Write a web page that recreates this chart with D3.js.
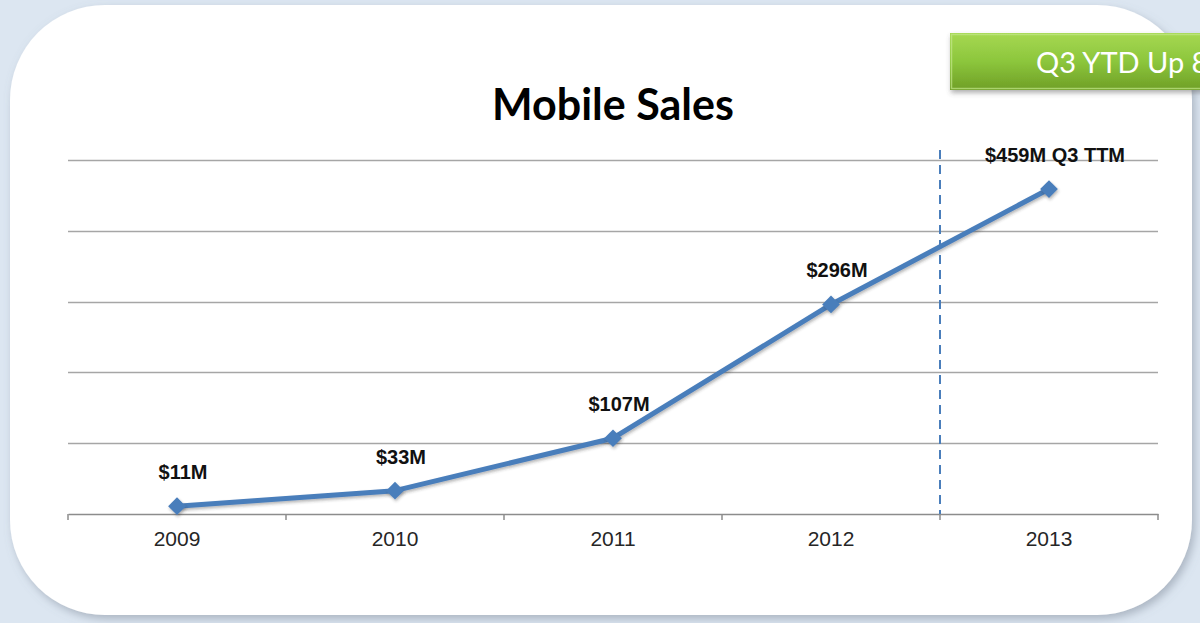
<!DOCTYPE html>
<html>
<head>
<meta charset="utf-8">
<script src="https://cdn.jsdelivr.net/npm/d3@7"></script>
<style>
  html, body { margin: 0; padding: 0; background: #dce6f1; overflow: hidden; }
  svg { display: block; }
</style>
</head>
<body>
<svg id="chart" width="1200" height="623"></svg>
<script>
// Annual mobile sales, in $ millions
const years = ["2009", "2010", "2011", "2012", "2013"];
const sales = [11, 33, 107, 296, 459];
const salesLabels = ["$11M", "$33M", "$107M", "$296M", "$459M Q3 TTM"];
const gridValues = [0, 100, 200, 300, 400, 500];
const chartTitle = "Mobile Sales";
const bannerText = "Q3 YTD Up 8";

const W = 1200, H = 623;
const svg = d3.select("#chart");
const defs = svg.append("defs");

// soft card shadow
const sh = defs.append("filter").attr("id", "cardShadow")
  .attr("x", "-5%").attr("y", "-5%").attr("width", "112%").attr("height", "115%");
sh.append("feDropShadow").attr("dx", 3).attr("dy", 4).attr("stdDeviation", 4)
  .attr("flood-color", "#7a8594").attr("flood-opacity", 0.5);

const bsh = defs.append("filter").attr("id", "bannerShadow")
  .attr("x", "-10%").attr("y", "-20%").attr("width", "130%").attr("height", "160%");
bsh.append("feDropShadow").attr("dx", 1).attr("dy", 3).attr("stdDeviation", 2.5)
  .attr("flood-color", "#555").attr("flood-opacity", 0.45);

const mk = defs.append("filter").attr("id", "markShadow")
  .attr("x", "-50%").attr("y", "-50%").attr("width", "200%").attr("height", "200%");
mk.append("feDropShadow").attr("dx", 1).attr("dy", 2).attr("stdDeviation", 1.5)
  .attr("flood-color", "#333").attr("flood-opacity", 0.35);

const green = defs.append("linearGradient").attr("id", "greenGrad")
  .attr("x1", 0).attr("y1", 0).attr("x2", 0).attr("y2", 1);
green.append("stop").attr("offset", "0%").attr("stop-color", "#a6d852");
green.append("stop").attr("offset", "50%").attr("stop-color", "#8cc63c");
green.append("stop").attr("offset", "100%").attr("stop-color", "#6f9f26");

// background
svg.append("rect").attr("width", W).attr("height", H).attr("fill", "#dce6f1");

// white card
svg.append("rect")
  .attr("x", 10).attr("y", 5).attr("width", 1182).attr("height", 610)
  .attr("rx", 95).attr("ry", 95)
  .attr("fill", "#ffffff")
  .attr("filter", "url(#cardShadow)");

// banner
const banner = svg.append("g").attr("filter", "url(#bannerShadow)");
banner.append("rect")
  .attr("x", 950).attr("y", 33).attr("width", 280).attr("height", 57)
  .attr("fill", "url(#greenGrad)");
banner.append("rect")
  .attr("x", 951.5).attr("y", 34.5).attr("width", 280).attr("height", 54)
  .attr("fill", "none").attr("stroke", "#c3e88a").attr("stroke-width", 1.5).attr("opacity", 0.7);
svg.append("text")
  .attr("x", 1036).attr("y", 73)
  .attr("font-family", "Lato, 'Open Sans', sans-serif")
  .attr("font-size", 29)
  .attr("fill", "#ffffff")
  .text(bannerText);

// scales
const x = d3.scaleBand().domain(years).range([68, 1158]).padding(0);
const y = d3.scaleLinear().domain([0, 500]).range([514, 160]);

// title
svg.append("text")
  .attr("x", 613).attr("y", 120)
  .attr("text-anchor", "middle")
  .attr("font-family", "Lato, 'Open Sans', sans-serif")
  .attr("font-weight", 700)
  .attr("font-size", 43)
  .attr("fill", "#000")
  .text(chartTitle);

// horizontal gridlines
svg.append("g").selectAll("line")
  .data(gridValues.slice(1))
  .join("line")
  .attr("x1", 68).attr("x2", 1158)
  .attr("y1", d => Math.round(y(d)) + 0.5).attr("y2", d => Math.round(y(d)) + 0.5)
  .attr("stroke", "#a6a6a6").attr("stroke-width", 1.5);

// category axis
const xAxis = d3.axisBottom(x).tickSize(0).tickPadding(17);
const axisG = svg.append("g")
  .attr("transform", `translate(0,${y(0)})`)
  .call(xAxis);
axisG.select(".domain").attr("stroke", "#8c8c8c").attr("stroke-width", 1.5);
axisG.selectAll(".tick text")
  .attr("font-family", "'Liberation Sans', Arial, sans-serif")
  .attr("font-size", 21)
  .attr("fill", "#262626");
// boundary tick marks between categories
const bounds = years.map(d => x(d)).concat([x(years[years.length - 1]) + x.bandwidth()]);
svg.append("g").selectAll("line")
  .data(bounds)
  .join("line")
  .attr("x1", d => d).attr("x2", d => d)
  .attr("y1", y(0)).attr("y2", y(0) + 6)
  .attr("stroke", "#8c8c8c").attr("stroke-width", 1.5);

// dashed separator between actuals and trailing twelve months
const sepX = x("2013");
svg.append("line")
  .attr("x1", sepX).attr("x2", sepX)
  .attr("y1", 150).attr("y2", y(0))
  .attr("stroke", "#4a7ebb").attr("stroke-width", 2)
  .attr("stroke-dasharray", "9,6");

// line
const cx = d => x(d) + x.bandwidth() / 2;
const line = d3.line().x((d, i) => cx(years[i])).y(d => y(d));
svg.append("path")
  .datum(sales)
  .attr("d", line)
  .attr("fill", "none")
  .attr("stroke", "#4a7ebb")
  .attr("stroke-width", 5)
  .attr("stroke-linejoin", "round")
  .attr("filter", "url(#markShadow)");

// diamond markers
const diamond = d3.symbol().type(d3.symbolDiamond2).size(200);
svg.append("g").selectAll("path")
  .data(sales)
  .join("path")
  .attr("d", diamond)
  .attr("transform", (d, i) => `translate(${cx(years[i])},${y(d)})`)
  .attr("fill", "#4a7ebb")
  .attr("filter", "url(#markShadow)");

// value labels
svg.append("g").selectAll("text")
  .data(sales)
  .join("text")
  .attr("x", (d, i) => cx(years[i]) + 6)
  .attr("y", d => y(d) - 27)
  .attr("text-anchor", "middle")
  .attr("font-family", "'Liberation Sans', Arial, sans-serif")
  .attr("font-weight", 700)
  .attr("font-size", 20)
  .attr("fill", "#111")
  .text((d, i) => salesLabels[i]);
</script>
</body>
</html>
